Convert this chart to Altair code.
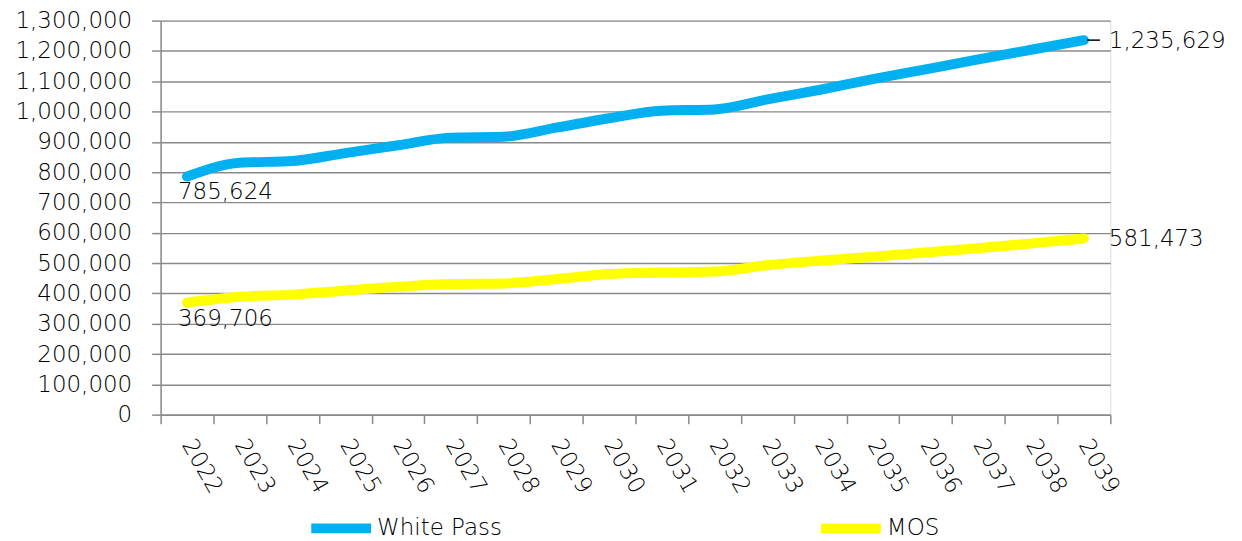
import altair as alt
import pandas as pd

years = [str(y) for y in range(2022, 2040)]
white_pass = [785624, 831000, 837000, 863000, 889000, 914000, 917000, 947000, 978000,
              1003000, 1007000, 1040000, 1072000, 1107000, 1139000, 1172000, 1204000, 1235629]
mos = [369706, 389000, 396000, 409000, 422000, 431000, 433000, 447000, 464000,
       469000, 472000, 493000, 508000, 521000, 535000, 549000, 565000, 581473]
series_names = ["White Pass", "MOS"]
series_colors = ["#00B0F0", "#FFFF00"]
y_ticks = [0, 100000, 200000, 300000, 400000, 500000, 600000, 700000,
           800000, 900000, 1000000, 1100000, 1200000, 1300000]

FONT = "DejaVu Sans"
GRID = "#8a8a8a"
FS = 23

df = pd.DataFrame({
    "year": years * 2,
    "value": white_pass + mos,
    "series": [series_names[0]] * len(years) + [series_names[1]] * len(years),
})

first_df = pd.DataFrame({
    "year": [years[0], years[0]],
    "value": [white_pass[0], mos[0]],
    "series": series_names,
})
last_df = pd.DataFrame({
    "year": [years[-1], years[-1]],
    "value": [white_pass[-1], mos[-1]],
    "series": series_names,
})

x_axis = alt.Axis(
    title=None, tickBand="extent", labelAngle=60, labelAlign="left",
    labelBaseline="middle", labelPadding=17, tickSize=9, grid=False,
    domainColor=GRID, tickColor=GRID, domainWidth=1.5, tickWidth=1.5,
    labelFont=FONT, labelFontSize=FS, labelColor="#000000",
    labelFontWeight=200,
)
y_axis = alt.Axis(
    title=None, values=y_ticks, labelExpr="format(datum.value, ',')",
    tickSize=9, labelPadding=20,
    grid=True, gridColor=GRID, gridWidth=1.4, domainColor=GRID,
    tickColor=GRID, domainWidth=1.5, tickWidth=1.5,
    labelFont=FONT, labelFontSize=FS, labelColor="#000000",
    labelFontWeight=200,
)
x_scale = alt.Scale(type="band", paddingInner=0, paddingOuter=0)
y_scale = alt.Scale(domain=[0, 1300000], nice=False, zero=True)


def xe():
    return alt.X("year:O", sort=years, scale=x_scale, axis=x_axis)


def ye():
    return alt.Y("value:Q", scale=y_scale, axis=y_axis)


lines = alt.Chart(df).mark_line(
    interpolate="monotone", strokeWidth=10, strokeCap="round", strokeJoin="round"
).encode(
    x=xe(),
    y=ye(),
    color=alt.Color(
        "series:N",
        sort=series_names,
        scale=alt.Scale(domain=series_names, range=series_colors),
        legend=alt.Legend(
            title=None, orient="none", direction="horizontal",
            legendX=146, legendY=474, symbolType="stroke", symbolSize=3600,
            symbolStrokeWidth=10, labelFont=FONT, labelFontSize=FS,
            labelColor="#000000", labelFontWeight=200, labelOffset=1,
            columnPadding=299, labelLimit=400,
        ),
    ),
)

first_labels = alt.Chart(first_df).mark_text(
    align="left", baseline="middle", dx=-9, dy=16, font=FONT, fontSize=FS,
    fontWeight=200, color="#000000",
).encode(
    x=xe(),
    y=ye(),
    text=alt.Text("value:Q", format=","),
)

last_labels = alt.Chart(last_df).mark_text(
    align="left", baseline="middle", dx=25, dy=1, font=FONT, fontSize=FS,
    fontWeight=200, color="#000000",
).encode(
    x=xe(),
    y=ye(),
    text=alt.Text("value:Q", format=","),
)

leader = alt.Chart(last_df[last_df["series"] == series_names[0]]).mark_rule(
    xOffset=3, x2Offset=16, color="#000000", strokeWidth=1.5
).encode(
    x=xe(),
    x2=alt.X2("year:O"),
    y=ye(),
)

chart = alt.layer(lines, leader, first_labels, last_labels).properties(
    width=952,
    height=395,
    autosize=alt.AutoSizeParams(type="none"),
    padding={"left": 153, "top": 12, "right": 124, "bottom": 126},
).configure_view(stroke=None).configure(font=FONT)

chart.save("out.html", embed_options={"renderer": "svg", "actions": False})
